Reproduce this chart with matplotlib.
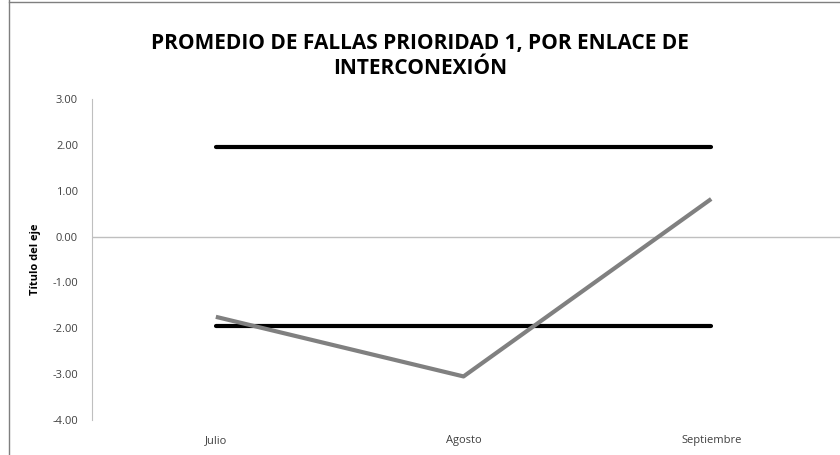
import matplotlib.pyplot as plt
from matplotlib.lines import Line2D

months = ['Julio', 'Agosto', 'Septiembre']
promedio = [-1.75, -3.05, 0.82]
limite_sup = [1.96, 1.96, 1.96]
limite_inf = [-1.96, -1.96, -1.96]
yticks = [3, 2, 1, 0, -1, -2, -3, -4]

plt.rcParams['font.family'] = ['Open Sans', 'DejaVu Sans']

fig = plt.figure(figsize=(8.4, 4.55), dpi=100)
ax = fig.add_axes([92 / 840, 1 - 420 / 455, 748 / 840, 321 / 455])

x = range(len(months))
ax.plot(x, limite_sup, color='black', lw=3, solid_capstyle='round', zorder=3)
ax.plot(x, limite_inf, color='black', lw=3, solid_capstyle='round', zorder=3)
ax.plot(x, promedio, color='#808080', lw=3, solid_capstyle='butt', zorder=4)

ax.set_xlim(-0.5, 2.52)
ax.set_ylim(-4, 3)
ax.set_yticks(yticks)
ax.set_yticklabels(['%.2f' % v for v in yticks], fontsize=8, color='#404040')
ax.set_xticks(list(x))
ax.set_xticklabels(months, fontsize=8, color='#404040')
ax.tick_params(axis='y', length=0, pad=10)
ax.tick_params(axis='x', length=0, pad=11)

for s in ['top', 'right', 'bottom']:
    ax.spines[s].set_visible(False)
ax.spines['left'].set_color('#bfbfbf')
ax.axhline(0, color='#bfbfbf', lw=1, zorder=1)

ax.set_ylabel('Título del eje', fontsize=8, fontweight='bold', labelpad=8)

fig.text(0.5, 1 - 56 / 455, 'PROMEDIO DE FALLAS PRIORIDAD 1, POR ENLACE DE\nINTERCONEXIÓN',
         ha='center', va='center', fontsize=15, fontweight='bold', linespacing=1.2)

# chart border remnants
fig.add_artist(Line2D([9 / 840, 9 / 840], [0, 1], color='#7f7f7f', lw=1))
fig.add_artist(Line2D([9 / 840, 1], [1 - 2 / 455, 1 - 2 / 455], color='#7f7f7f', lw=1))

fig.savefig('out.png', dpi=100)
